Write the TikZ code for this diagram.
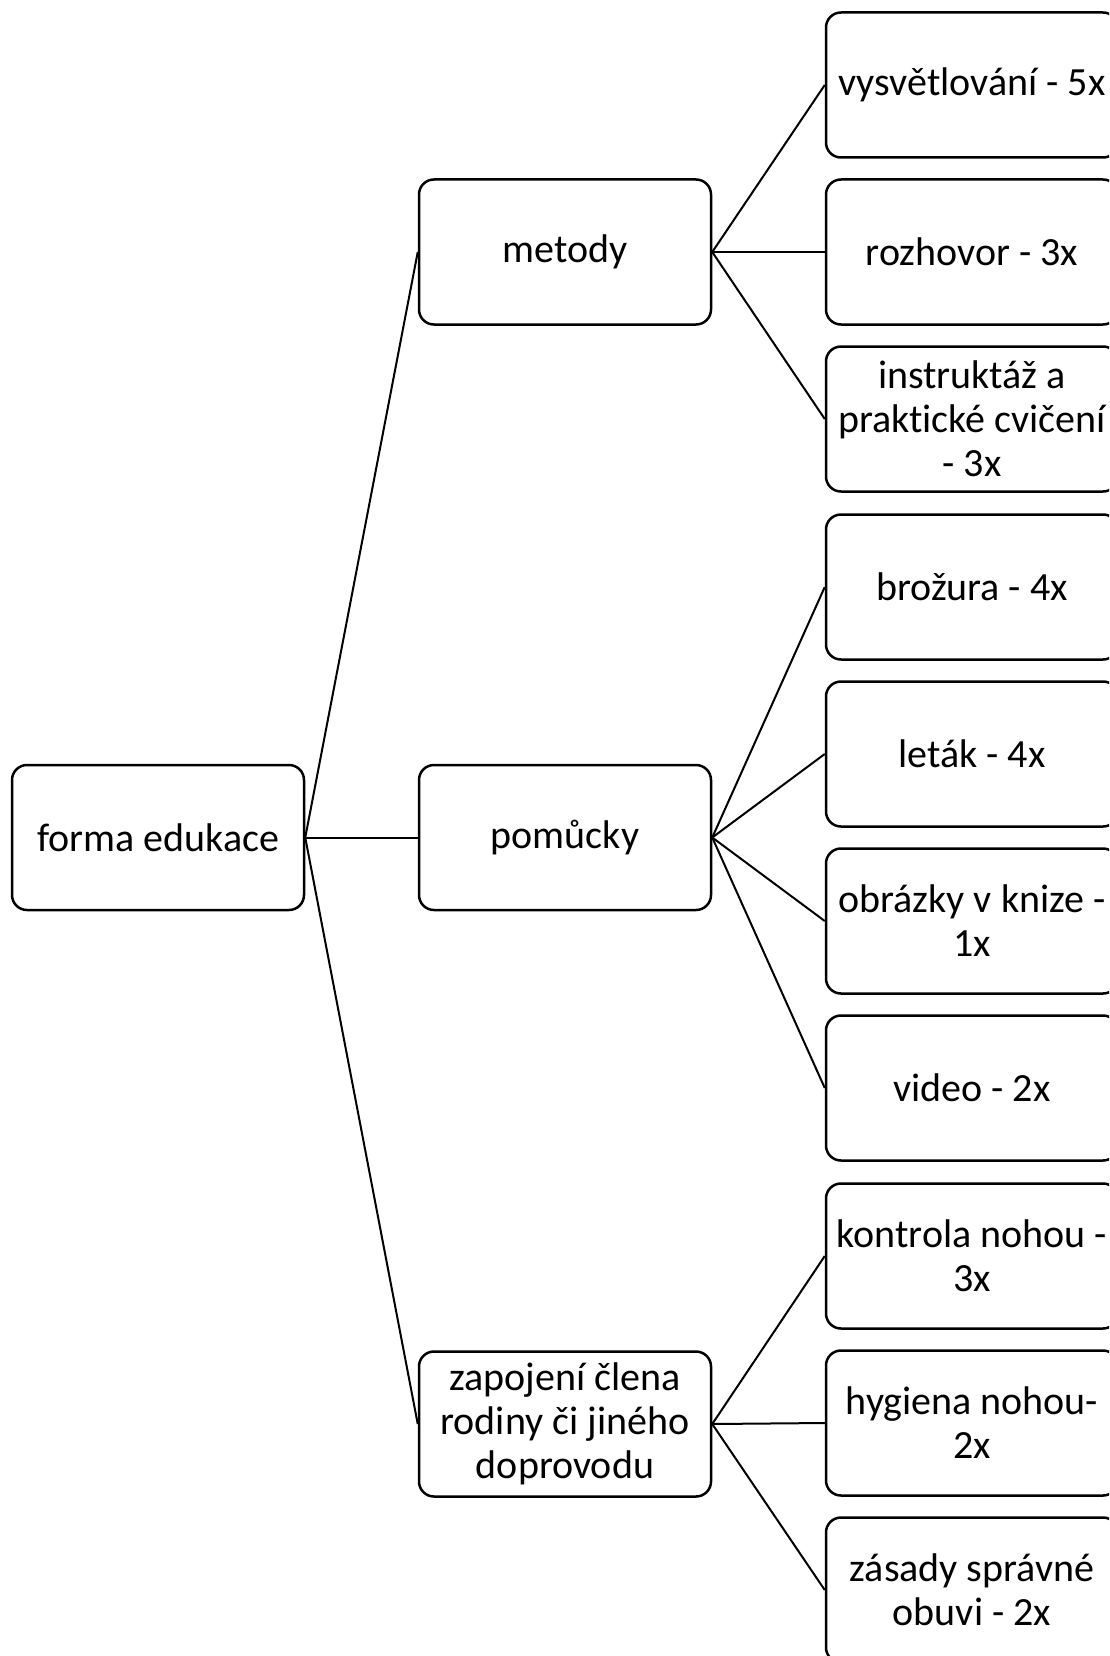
\documentclass[tikz,border=0pt]{standalone}
\usepackage{fontspec}
\setmainfont{Carlito}[Ligatures=NoCommon]
\begin{document}
\begin{tikzpicture}[x=1pt,y=-1pt,
  box/.style={draw=black, line width=2.5pt, rounded corners=15pt, rectangle,
    minimum width=292pt, minimum height=145pt, inner sep=0pt, align=center,
    font=\fontsize{40}{44}\selectfont},
  link/.style={draw=black, line width=2pt}]
\useasboundingbox (0,0) rectangle (1109,1656);
\clip (0,0) rectangle (1109,1656);
\node[box] (root) at (158,837.5) {forma edukace};
\node[box] (met) at (565,252) {metody};
\node[box] (pom) at (565,837.5) {pomůcky};
\node[box] (zap) at (565,1424) {zapojení člena\\rodiny či jiného\\doprovodu};
\node[box] (r1) at (972,85) {vysvětlování - 5x};
\node[box] (r2) at (972,252) {rozhovor - 3x};
\node[box] (r3) at (972,419) {instruktáž a\\praktické cvičení\\- 3x};
\node[box] (r4) at (972,587) {brožura - 4x};
\node[box] (r5) at (972,754) {leták - 4x};
\node[box] (r6) at (972,921) {obrázky v knize -\\1x};
\node[box] (r7) at (972,1088) {video - 2x};
\node[box] (r8) at (972,1256) {kontrola nohou -\\3x};
\node[box] (r9) at (972,1423) {hygiena nohou-\\2x};
\node[box] (r10) at (972,1590) {zásady správné\\obuvi - 2x};
\draw[link] (root.east) -- (met.west);
\draw[link] (root.east) -- (pom.west);
\draw[link] (root.east) -- (zap.west);
\draw[link] (met.east) -- (r1.west);
\draw[link] (met.east) -- (r2.west);
\draw[link] (met.east) -- (r3.west);
\draw[link] (pom.east) -- (r4.west);
\draw[link] (pom.east) -- (r5.west);
\draw[link] (pom.east) -- (r6.west);
\draw[link] (pom.east) -- (r7.west);
\draw[link] (zap.east) -- (r8.west);
\draw[link] (zap.east) -- (r9.west);
\draw[link] (zap.east) -- (r10.west);
\end{tikzpicture}
\end{document}
